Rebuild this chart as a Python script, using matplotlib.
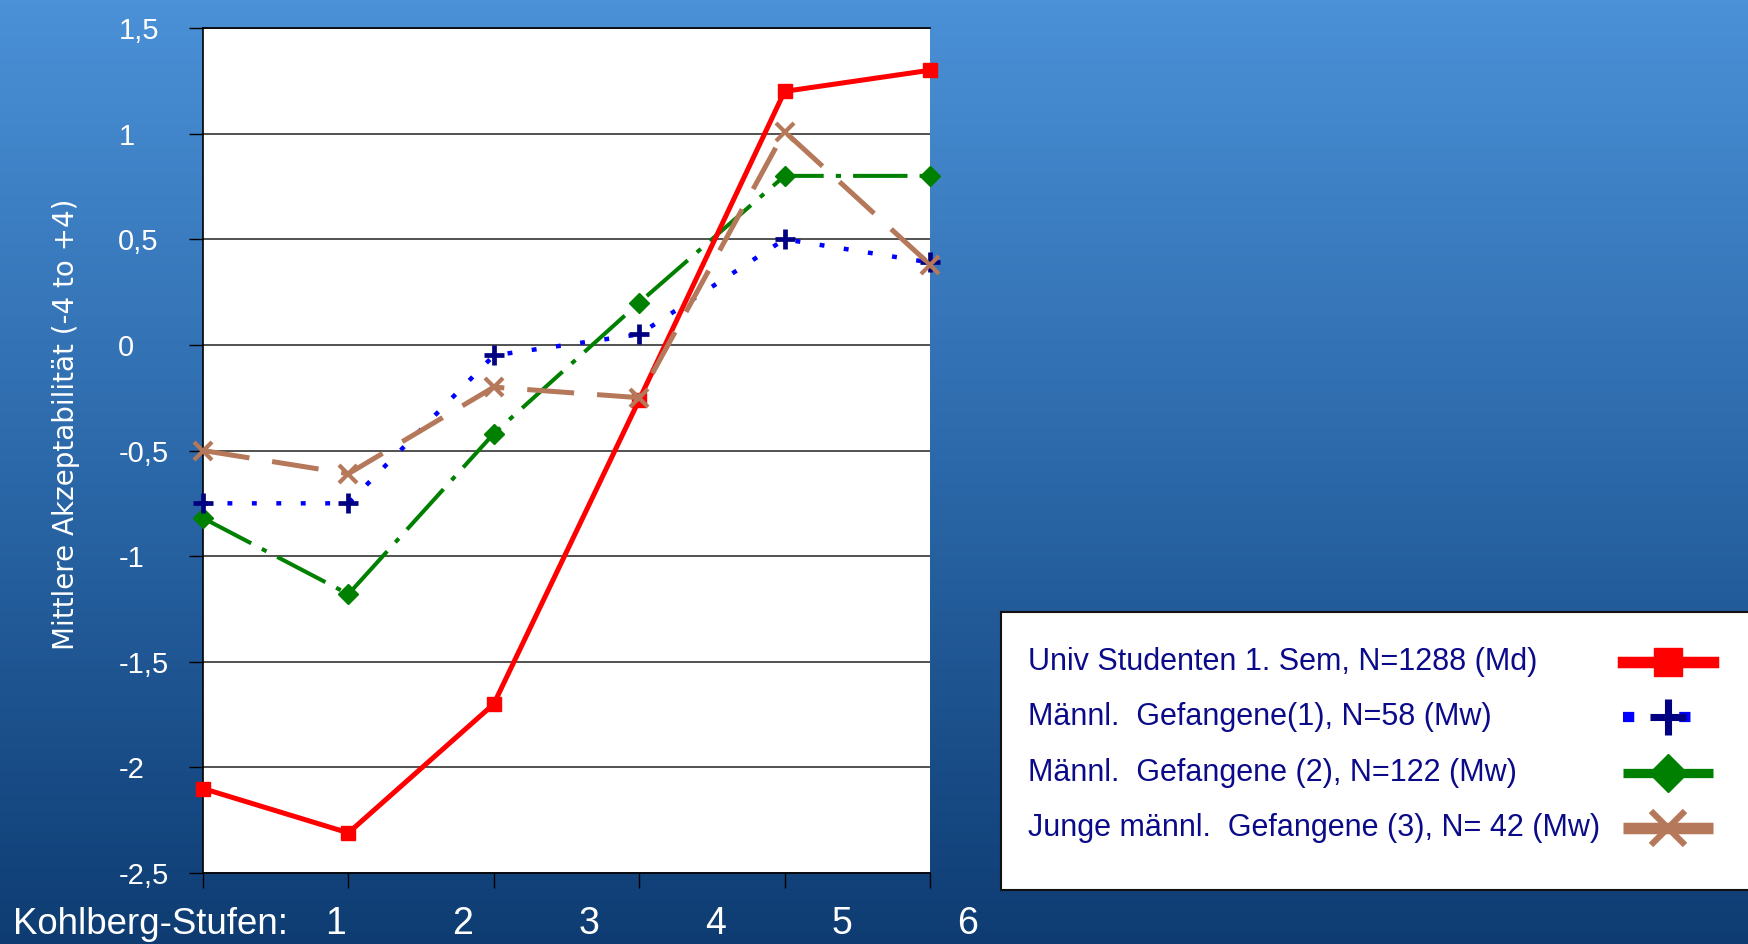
import numpy as np
import matplotlib.pyplot as plt
from matplotlib import font_manager
from matplotlib.colors import LinearSegmentedColormap

# Daten
stufen = [1, 2, 3, 4, 5, 6]
stufen_labels = ['1', '2', '3', '4', '5', '6']
univ = [-2.10, -2.31, -1.70, -0.26, 1.20, 1.30]
gef1 = [-0.75, -0.75, -0.05, 0.05, 0.50, 0.39]
gef2 = [-0.82, -1.18, -0.42, 0.20, 0.80, 0.80]
junge = [-0.50, -0.61, -0.20, -0.25, 1.01, 0.38]
series_labels = ['Univ Studenten 1. Sem, N=1288 (Md)',
                 'Männl.  Gefangene(1), N=58 (Mw)',
                 'Männl.  Gefangene (2), N=122 (Mw)',
                 'Junge männl.  Gefangene (3), N= 42 (Mw)']
yticks = [1.5, 1, 0.5, 0, -0.5, -1, -1.5, -2, -2.5]
ytick_labels = ['1,5', '1', '0,5', '0', '-0,5', '-1', '-1,5', '-2', '-2,5']

names = {f.name for f in font_manager.fontManager.ttflist}
if 'Liberation Sans Narrow' in names:
    narrow, tick_fs, leg_fs = 'Liberation Sans Narrow', 22, 26
else:
    narrow, tick_fs, leg_fs = 'Liberation Sans', 21, 22

W, H = 1748, 944
fig = plt.figure(figsize=(W / 100, H / 100), dpi=100)

# Hintergrund-Verlauf
bg = fig.add_axes([0, 0, 1, 1])
bg.axis('off')
cmap = LinearSegmentedColormap.from_list('bg', ['#4b91d7', '#2b68a9', '#0e3c72'])
bg.imshow(np.linspace(0, 1, 256).reshape(-1, 1), aspect='auto', cmap=cmap,
          extent=[0, 1, 0, 1])

ax = fig.add_axes([203 / W, 1 - 873 / H, 727 / W, 845 / H])
ax.set_facecolor('white')
ax.set_xlim(1, 6)
ax.set_ylim(-2.5, 1.5)

styles = [
    dict(color='#ff0000', lw=3.6, ls='-', marker='s', ms=10.5, mfc='#ff0000', mec='#ff0000'),
    dict(color='#0000ff', lw=3.2, ls=(0, (1.1, 4.4)), marker='+', ms=14, mew=3.4, mec='#000080'),
    dict(color='#008000', lw=2.9, ls=(0, (13.5, 3, 1.3, 3)), marker='D', ms=10, mfc='#008000', mec='#008000'),
    dict(color='#b5785a', lw=3.6, ls=(0, (9.4, 4.6)), marker='x', ms=13, mew=3.0, mec='#b5785a'),
]
for vals, st, z in zip([univ, gef1, gef2, junge], styles, [5, 4, 3, 6]):
    ax.plot(stufen, vals, clip_on=False, zorder=z, **st)

ax.set_yticks(yticks)
ax.set_yticklabels(ytick_labels)
ax.set_xticks(stufen)
ax.set_xticklabels([])
ax.yaxis.grid(True, color='#222222', lw=1.1)
ax.set_axisbelow(True)
ax.tick_params(axis='y', length=10, width=1, color='black', pad=51,
               labelsize=tick_fs, labelcolor='white')
ax.tick_params(axis='x', length=11, width=1, color='black')
for lab in ax.get_yticklabels():
    lab.set_horizontalalignment('left')
    lab.set_family(narrow)
for s in ['left', 'top', 'bottom']:
    ax.spines[s].set_color('black')
    ax.spines[s].set_linewidth(1.2)
ax.spines['right'].set_visible(False)

ax.set_ylabel('Mittlere Akzeptabilität (-4 to +4)', fontsize=20, color='white',
              family='DejaVu Sans')
ax.yaxis.set_label_coords(-0.169, 0.531)

# Beschriftung unten
fig.text(13 / W, 1 - 925 / H, 'Kohlberg-Stufen:', fontsize=26.4, color='white',
         family='Liberation Sans', va='center', ha='left')
for i, lab in enumerate(stufen_labels):
    fig.text((336 + i * 126.4) / W, 1 - 924 / H, lab, fontsize=27, color='white',
             family='Liberation Sans', va='center', ha='center')

# Legende
lg = fig.add_axes([1001 / W, 1 - 890 / H, 770 / W, 278 / H])
lg.set_xlim(0, 1)
lg.set_ylim(0, 1)
lg.set_xticks([])
lg.set_yticks([])
lg.set_facecolor('white')
for s in lg.spines.values():
    s.set_color('#111111')
    s.set_linewidth(1.5)
rows = [0.82, 0.622, 0.421, 0.223]
for lab, st, y in zip(series_labels, styles, rows):
    lg.text(0.035, y, lab, fontsize=leg_fs, color='#0b0b8a', family=narrow,
            va='center', ha='left')
    hs = dict(st)
    hs['lw'] = st['lw'] * 2.3
    hs['ms'] = st['ms'] * 1.9
    hs['markevery'] = [1]
    if 'mew' in hs:
        hs['mew'] = st['mew'] * 1.5
    lg.plot([0.808, 0.866, 0.925], [y, y, y], **hs)

fig.savefig('out.png', dpi=100)
